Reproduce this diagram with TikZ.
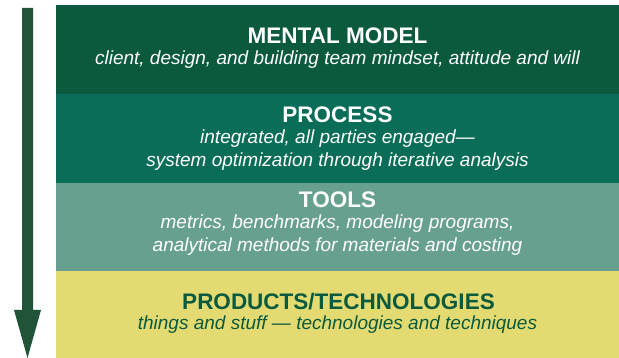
\documentclass[tikz,border=0pt]{standalone}
\usepackage{fontspec}
\setmainfont{Liberation Sans}
\definecolor{bandA}{HTML}{0B5A3E}
\definecolor{bandB}{HTML}{0A6D57}
\definecolor{bandC}{HTML}{68A090}
\definecolor{bandD}{HTML}{E3DB72}
\definecolor{darkgreen}{HTML}{0B5A3D}
\definecolor{arrowgreen}{HTML}{1F5438}
\tikzset{
  band/.style={fill=#1, draw=none, inner sep=0pt},
  head/.style={anchor=base, inner sep=0pt, font=\fontsize{22.5}{24}\selectfont\bfseries},
  sub/.style={anchor=base, inner sep=0pt, font=\fontsize{19}{20}\selectfont\itshape},
}
\begin{document}
\begin{tikzpicture}[x=1pt,y=-1pt]
\useasboundingbox (0,0) rectangle (619,358);
% bands
\fill[bandA] (56,5) rectangle (619,94);
\fill[bandB] (56,94) rectangle (619,183);
\fill[bandC] (56,183) rectangle (619,271);
\fill[bandD] (56,271) rectangle (619,358);
% arrow
\fill[arrowgreen] (22,8) -- (33,8) -- (33,310) -- (41,310) -- (27.5,358) -- (14,310) -- (22,310) -- cycle;
% texts
\node[head, text=white] (h1) at (337.5,44) {MENTAL MODEL};
\node[sub, text=white] (s1) at (337.5,65) {client, design, and building team mindset, attitude and will};
\node[head, text=white] (h2) at (337.5,123) {PROCESS};
\node[sub, text=white] (s2a) at (337.5,144) {integrated, all parties engaged—};
\node[sub, text=white] (s2b) at (337.5,167) {system optimization through iterative analysis};
\node[head, text=white] (h3) at (337.5,208) {TOOLS};
\node[sub, text=white] (s3a) at (337.5,229) {metrics, benchmarks, modeling programs,};
\node[sub, text=white] (s3b) at (337.5,252) {analytical methods for materials and costing};
\node[head, text=darkgreen] (h4) at (338.5,309) {PRODUCTS/TECHNOLOGIES};
\node[sub, text=darkgreen] (s4) at (337.5,330) {things and stuff — technologies and techniques};
\end{tikzpicture}
\end{document}
